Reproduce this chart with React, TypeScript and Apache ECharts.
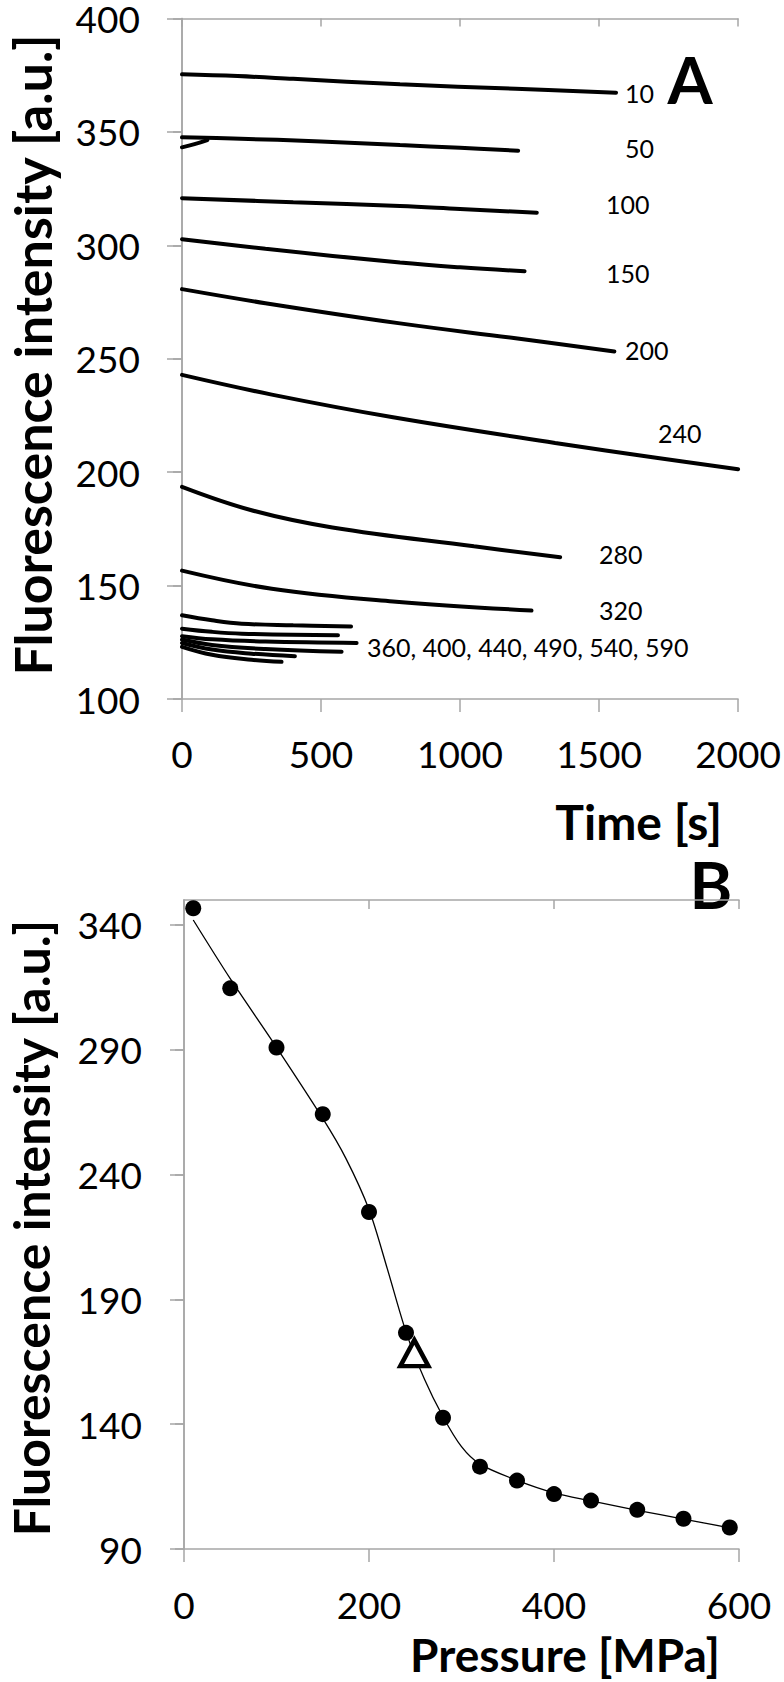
import React, { useEffect, useRef } from 'react';
import * as echarts from 'echarts';

// ---- tick values ----
const timeTicks = [0, 500, 1000, 1500, 2000];
const intensityTicksA = [100, 150, 200, 250, 300, 350, 400];
const pressureTicks = [0, 200, 400, 600];
const intensityTicksB = [90, 140, 190, 240, 290, 340];

// ---- Panel A: fluorescence traces [time s, intensity a.u.] ----
const trace10 = [[0, 375.4], [200, 374.6], [400, 373.4], [784, 371], [1200, 369], [1561, 367.3]];
const trace50 = [[0, 347.6], [184, 347.1], [500, 345.8], [784, 344.2], [1000, 343], [1209, 341.7]];
const trace50Start = [[0, 343.2], [45, 344.6], [91, 346.4]];
const trace100 = [[0, 320.8], [400, 319], [784, 317.3], [1000, 316], [1276, 314.4]];
const trace150 = [[0, 302.7], [300, 298.5], [784, 292.4], [1000, 290.3], [1232, 288.6]];
const trace200 = [[0, 280.7], [300, 274.5], [784, 265.6], [1200, 259], [1555, 253.2]];
const trace240 = [[0, 242.9], [323, 234.2], [759, 224.2], [1342, 212.9], [1705, 206.4], [2000, 201.3]];
const trace280 = [[0, 193.5], [250, 183.2], [541, 175.6], [1050, 167.3], [1360, 162.5]];
const trace320 = [[0, 156.6], [323, 148.6], [759, 143], [1257, 139]];
const trace360 = [[0, 136.9], [108, 134.7], [215, 133.2], [400, 132.5], [608, 132]];
const trace400 = [[0, 131], [108, 129.6], [215, 128.8], [561, 128.1]];
const trace440 = [[0, 127.7], [108, 126.3], [300, 125.3], [628, 124.7]];
const trace490 = [[0, 126.2], [108, 123.8], [300, 122], [574, 120.8]];
const trace540 = [[0, 124.7], [108, 121.8], [250, 120], [406, 118.9]];
const trace590 = [[0, 123], [108, 119.5], [250, 117.3], [358, 116.4]];
const tracesA = [trace10, trace50, trace50Start, trace100, trace150, trace200, trace240, trace280,
  trace320, trace360, trace400, trace440, trace490, trace540, trace590];

const traceLabelTexts = ['10', '50', '100', '150', '200', '240', '280', '320', '360, 400, 440, 490, 540, 590'];

// ---- Panel B: intensity vs pressure ----
const pressures = [10, 50, 100, 150, 200, 240, 280, 320, 360, 400, 440, 490, 540, 590];
const intensities = [346.7, 314.6, 290.9, 264.2, 225, 176.6, 142.6, 123, 117.4, 112, 109.4, 105.7, 102.1, 98.6];
const fitPressures = [10, 50, 100, 150, 175, 200, 220, 240, 260, 280, 300, 320, 360, 400, 440, 490, 540, 590];
const fitIntensities = [342, 318.5, 291, 262.5, 246.5, 226, 202, 177, 158, 143, 131, 124, 117.5, 112.5, 109.3, 105.5, 102, 98.5];
const refPressure = [249];
const refIntensity = [168.5];

const AXIS_GREY = '#a6a6a6';
const FONT = 'Lato, "Open Sans", sans-serif';

export default function App() {
  const ref = useRef<HTMLDivElement>(null);

  useEffect(() => {
    if (!ref.current) return;
    const chart = echarts.init(ref.current, null, { renderer: 'svg' });

    const axisLine = { show: true, lineStyle: { color: AXIS_GREY, width: 1.5 } };
    const labelStyle = {
      color: '#000', fontFamily: FONT, fontSize: 37, lineHeight: 30,
      formatter: (v: number) => String(v),
    };
    const tickStyle = { color: AXIS_GREY, width: 1.5 };

    const labelPos: [number, number][] = [
      [625, 93], [625, 148], [606, 204], [606, 273], [625, 350], [658, 433], [599, 554], [599, 610], [367, 647],
    ];

    const txt = (text: string, x: number, y: number, font: string, align: string, extra: any = {}) => ({
      type: 'text', x, y, ...extra,
      style: {
        text, fill: '#000', font, align, verticalAlign: 'middle',
        textAlign: align, textVerticalAlign: 'middle',
      },
    });

    const option: any = {
      animation: false,
      backgroundColor: '#fff',
      grid: [
        { left: 182, top: 16, width: 557, height: 683 },
        { left: 184, top: 900, width: 555, height: 649 },
      ],
      xAxis: [
        {
          gridIndex: 0, type: 'value', position: 'bottom', min: 0, max: 2000, interval: 500,
          axisLine, splitLine: { show: false },
          axisTick: { show: true, inside: false, length: 13, lineStyle: tickStyle, customValues: timeTicks },
          axisLabel: { ...labelStyle, margin: 39, customValues: timeTicks },
        },
        {
          gridIndex: 0, type: 'value', position: 'top', min: 0, max: 2000, interval: 500,
          axisLine, splitLine: { show: false },
          axisTick: { show: true, inside: true, length: 8, lineStyle: tickStyle, customValues: timeTicks },
          axisLabel: { show: false },
        },
        {
          gridIndex: 1, type: 'value', position: 'bottom', min: 0, max: 600, interval: 200,
          axisLine, splitLine: { show: false },
          axisTick: { show: true, inside: false, length: 13, lineStyle: tickStyle, customValues: pressureTicks },
          axisLabel: { ...labelStyle, margin: 40, customValues: pressureTicks },
        },
        {
          gridIndex: 1, type: 'value', position: 'top', min: 0, max: 600, interval: 200,
          axisLine, splitLine: { show: false },
          axisTick: { show: true, inside: true, length: 9, lineStyle: tickStyle, customValues: pressureTicks },
          axisLabel: { show: false },
        },
      ],
      yAxis: [
        {
          gridIndex: 0, type: 'value', position: 'left', min: 100, max: 400, interval: 50,
          axisLine, splitLine: { show: false },
          axisTick: { show: true, inside: false, length: 15, lineStyle: tickStyle, customValues: intensityTicksA },
          axisLabel: { ...labelStyle, margin: 42, customValues: intensityTicksA },
        },
        {
          gridIndex: 0, type: 'value', position: 'right', min: 100, max: 400, interval: 50,
          axisLine, splitLine: { show: false },
          axisTick: { show: true, inside: true, length: 9, lineStyle: tickStyle, customValues: intensityTicksA },
          axisLabel: { show: false },
        },
        {
          gridIndex: 1, type: 'value', position: 'left', min: 90, max: 350,
          axisLine, splitLine: { show: false },
          axisTick: { show: true, inside: false, length: 14, lineStyle: tickStyle, customValues: intensityTicksB },
          axisLabel: { ...labelStyle, margin: 42, customValues: intensityTicksB },
        },
        {
          gridIndex: 1, type: 'value', position: 'right', min: 90, max: 350,
          axisLine, splitLine: { show: false },
          axisTick: { show: true, inside: true, length: 9, lineStyle: tickStyle, customValues: intensityTicksB },
          axisLabel: { show: false },
        },
      ],
      series: [
        ...tracesA.map((d) => ({
          type: 'line', xAxisIndex: 0, yAxisIndex: 0, data: d, smooth: 0.4, showSymbol: false, symbol: 'none',
          lineStyle: { color: '#000', width: 4, cap: 'round' }, silent: true,
        })),
        {
          type: 'line', xAxisIndex: 2, yAxisIndex: 2,
          data: fitPressures.map((p, i) => [p, fitIntensities[i]]),
          smooth: 0.3, showSymbol: false, symbol: 'none',
          lineStyle: { color: '#000', width: 1.3 }, z: 2, silent: true,
        },
        {
          type: 'scatter', xAxisIndex: 2, yAxisIndex: 2,
          data: pressures.map((p, i) => [p, intensities[i]]),
          symbol: 'circle', symbolSize: 16, itemStyle: { color: '#000', opacity: 1 }, z: 3,
        },
        {
          type: 'scatter', xAxisIndex: 2, yAxisIndex: 2,
          data: refPressure.map((p, i) => [p, refIntensity[i]]),
          symbol: 'triangle', symbolSize: [28, 26],
          itemStyle: { color: '#fff', borderColor: '#000', borderWidth: 4.5, opacity: 1 }, z: 4,
        },
      ],
      graphic: [
        ...traceLabelTexts.map((t, i) => txt(t, labelPos[i][0], labelPos[i][1], `25px ${FONT}`, 'left')),
        txt('A', 690, 79, `bold 65px ${FONT}`, 'center'),
        txt('B', 711, 884, `bold 65px ${FONT}`, 'center'),
        {
          type: 'text', x: 32, y: 355, rotation: Math.PI / 2,
          style: {
            text: 'Fluorescence intensity [a.u.]', fill: '#000', font: `bold 52px ${FONT}`, lineHeight: 52,
            align: 'center', verticalAlign: 'middle', textAlign: 'center', textVerticalAlign: 'middle',
          },
        },
        {
          type: 'text', x: 31, y: 1228, rotation: Math.PI / 2,
          style: {
            text: 'Fluorescence intensity [a.u.]', fill: '#000', font: `bold 50px ${FONT}`, lineHeight: 50,
            align: 'center', verticalAlign: 'middle', textAlign: 'center', textVerticalAlign: 'middle',
          },
        },
        {
          type: 'text', x: 722, y: 821,
          style: {
            text: 'Time [s]', fill: '#000', font: `bold 48px ${FONT}`, lineHeight: 48,
            align: 'right', verticalAlign: 'middle', textAlign: 'right', textVerticalAlign: 'middle',
          },
        },
        {
          type: 'text', x: 720, y: 1654,
          style: {
            text: 'Pressure [MPa]', fill: '#000', font: `bold 46px ${FONT}`, lineHeight: 40,
            align: 'right', verticalAlign: 'middle', textAlign: 'right', textVerticalAlign: 'middle',
          },
        },
      ],
    };

    chart.setOption(option);
    return () => chart.dispose();
  }, []);

  return (
    <div
      ref={ref}
      style={{ position: 'absolute', left: 0, top: 0, width: 784, height: 1682, background: '#fff' }}
    />
  );
}
